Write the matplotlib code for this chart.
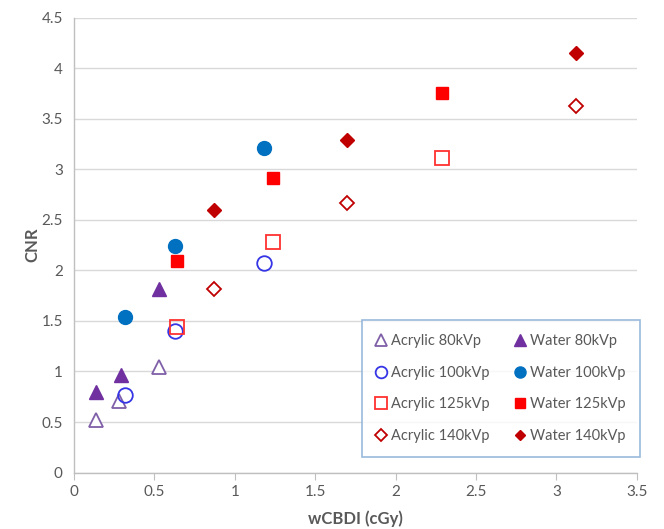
import matplotlib.pyplot as plt

plt.rcParams['font.family'] = ['Lato', 'DejaVu Sans']

# wCBDI (cGy) and CNR values
acr80_x = [0.14, 0.28, 0.53]
acr80_y = [0.52, 0.71, 1.04]
wat80_x = [0.14, 0.29, 0.53]
wat80_y = [0.80, 0.97, 1.82]
acr100_x = [0.32, 0.63, 1.18]
acr100_y = [0.77, 1.40, 2.07]
wat100_x = [0.32, 0.63, 1.18]
wat100_y = [1.54, 2.24, 3.21]
acr125_x = [0.64, 1.24, 2.29]
acr125_y = [1.44, 2.28, 3.11]
wat125_x = [0.64, 1.24, 2.29]
wat125_y = [2.09, 2.92, 3.76]
acr140_x = [0.87, 1.70, 3.12]
acr140_y = [1.82, 2.67, 3.63]
wat140_x = [0.87, 1.70, 3.12]
wat140_y = [2.60, 3.29, 4.15]

fig = plt.figure(figsize=(6.64, 5.29), dpi=100)
fig.patch.set_facecolor('white')
ax = fig.add_axes([0.1114, 0.1068, 0.8475, 0.8592])

h = {}
h['a80'], = ax.plot(acr80_x, acr80_y, ls='none', marker='^', ms=10, mfc='white', mec='#7f5fa8', mew=1.3, label='Acrylic 80kVp')
h['w80'], = ax.plot(wat80_x, wat80_y, ls='none', marker='^', ms=10, mfc='#7030a0', mec='#7030a0', label='Water 80kVp')
h['a100'], = ax.plot(acr100_x, acr100_y, ls='none', marker='o', ms=10.5, mfc='none', mec='#3535e6', mew=1.3, label='Acrylic 100kVp')
h['w100'], = ax.plot(wat100_x, wat100_y, ls='none', marker='o', ms=10, mfc='#0070c0', mec='#0070c0', label='Water 100kVp')
h['a125'], = ax.plot(acr125_x, acr125_y, ls='none', marker='s', ms=10, mfc='none', mec='#ff3030', mew=1.3, label='Acrylic 125kVp')
h['w125'], = ax.plot(wat125_x, wat125_y, ls='none', marker='s', ms=9, mfc='#ff0000', mec='#ff0000', label='Water 125kVp')
h['a140'], = ax.plot(acr140_x, acr140_y, ls='none', marker='D', ms=7.5, mfc='white', mec='#c00000', mew=1.3, label='Acrylic 140kVp')
h['w140'], = ax.plot(wat140_x, wat140_y, ls='none', marker='D', ms=7, mfc='#c00000', mec='#c00000', label='Water 140kVp')

ax.set_xlim(0, 3.5)
ax.set_ylim(0, 4.5)
ax.set_xticks([0, 0.5, 1, 1.5, 2, 2.5, 3, 3.5])
ax.set_xticklabels(['0', '0.5', '1', '1.5', '2', '2.5', '3', '3.5'])
ax.set_yticks([0, 0.5, 1, 1.5, 2, 2.5, 3, 3.5, 4, 4.5])
ax.set_yticklabels(['0', '0.5', '1', '1.5', '2', '2.5', '3', '3.5', '4', '4.5'])
ax.grid(axis='y', color='#d9d9d9', lw=1)
ax.set_axisbelow(True)
for s in ['top', 'right']:
    ax.spines[s].set_visible(False)
for s in ['left', 'bottom']:
    ax.spines[s].set_color('#bfbfbf')
    ax.spines[s].set_linewidth(1)
ax.tick_params(axis='x', colors='#595959', labelsize=11, length=5, color='#bfbfbf', pad=4)
ax.tick_params(axis='y', colors='#595959', labelsize=11, length=0, pad=8)
ax.set_xlabel('wCBDI (cGy)', fontsize=12, fontweight='bold', color='#595959', labelpad=8)
ax.set_ylabel('CNR', fontsize=12, fontweight='bold', color='#595959', labelpad=1)

order = ['a80', 'a100', 'a125', 'a140', 'w80', 'w100', 'w125', 'w140']
leg = ax.legend([h[k] for k in order], [h[k].get_label() for k in order], ncol=2,
                loc='lower right', bbox_to_anchor=(1.005, 0.035), fontsize=10.5,
                frameon=True, fancybox=False, markerscale=0.8, handlelength=0.7,
                handletextpad=0.35, columnspacing=1.7, labelspacing=1.2,
                borderpad=0.95, borderaxespad=0)
leg.get_frame().set_edgecolor('#7fa9d4')
leg.get_frame().set_linewidth(1.2)
for t in leg.get_texts():
    t.set_color('#595959')

plt.savefig('out.png', dpi=100, facecolor='white')
